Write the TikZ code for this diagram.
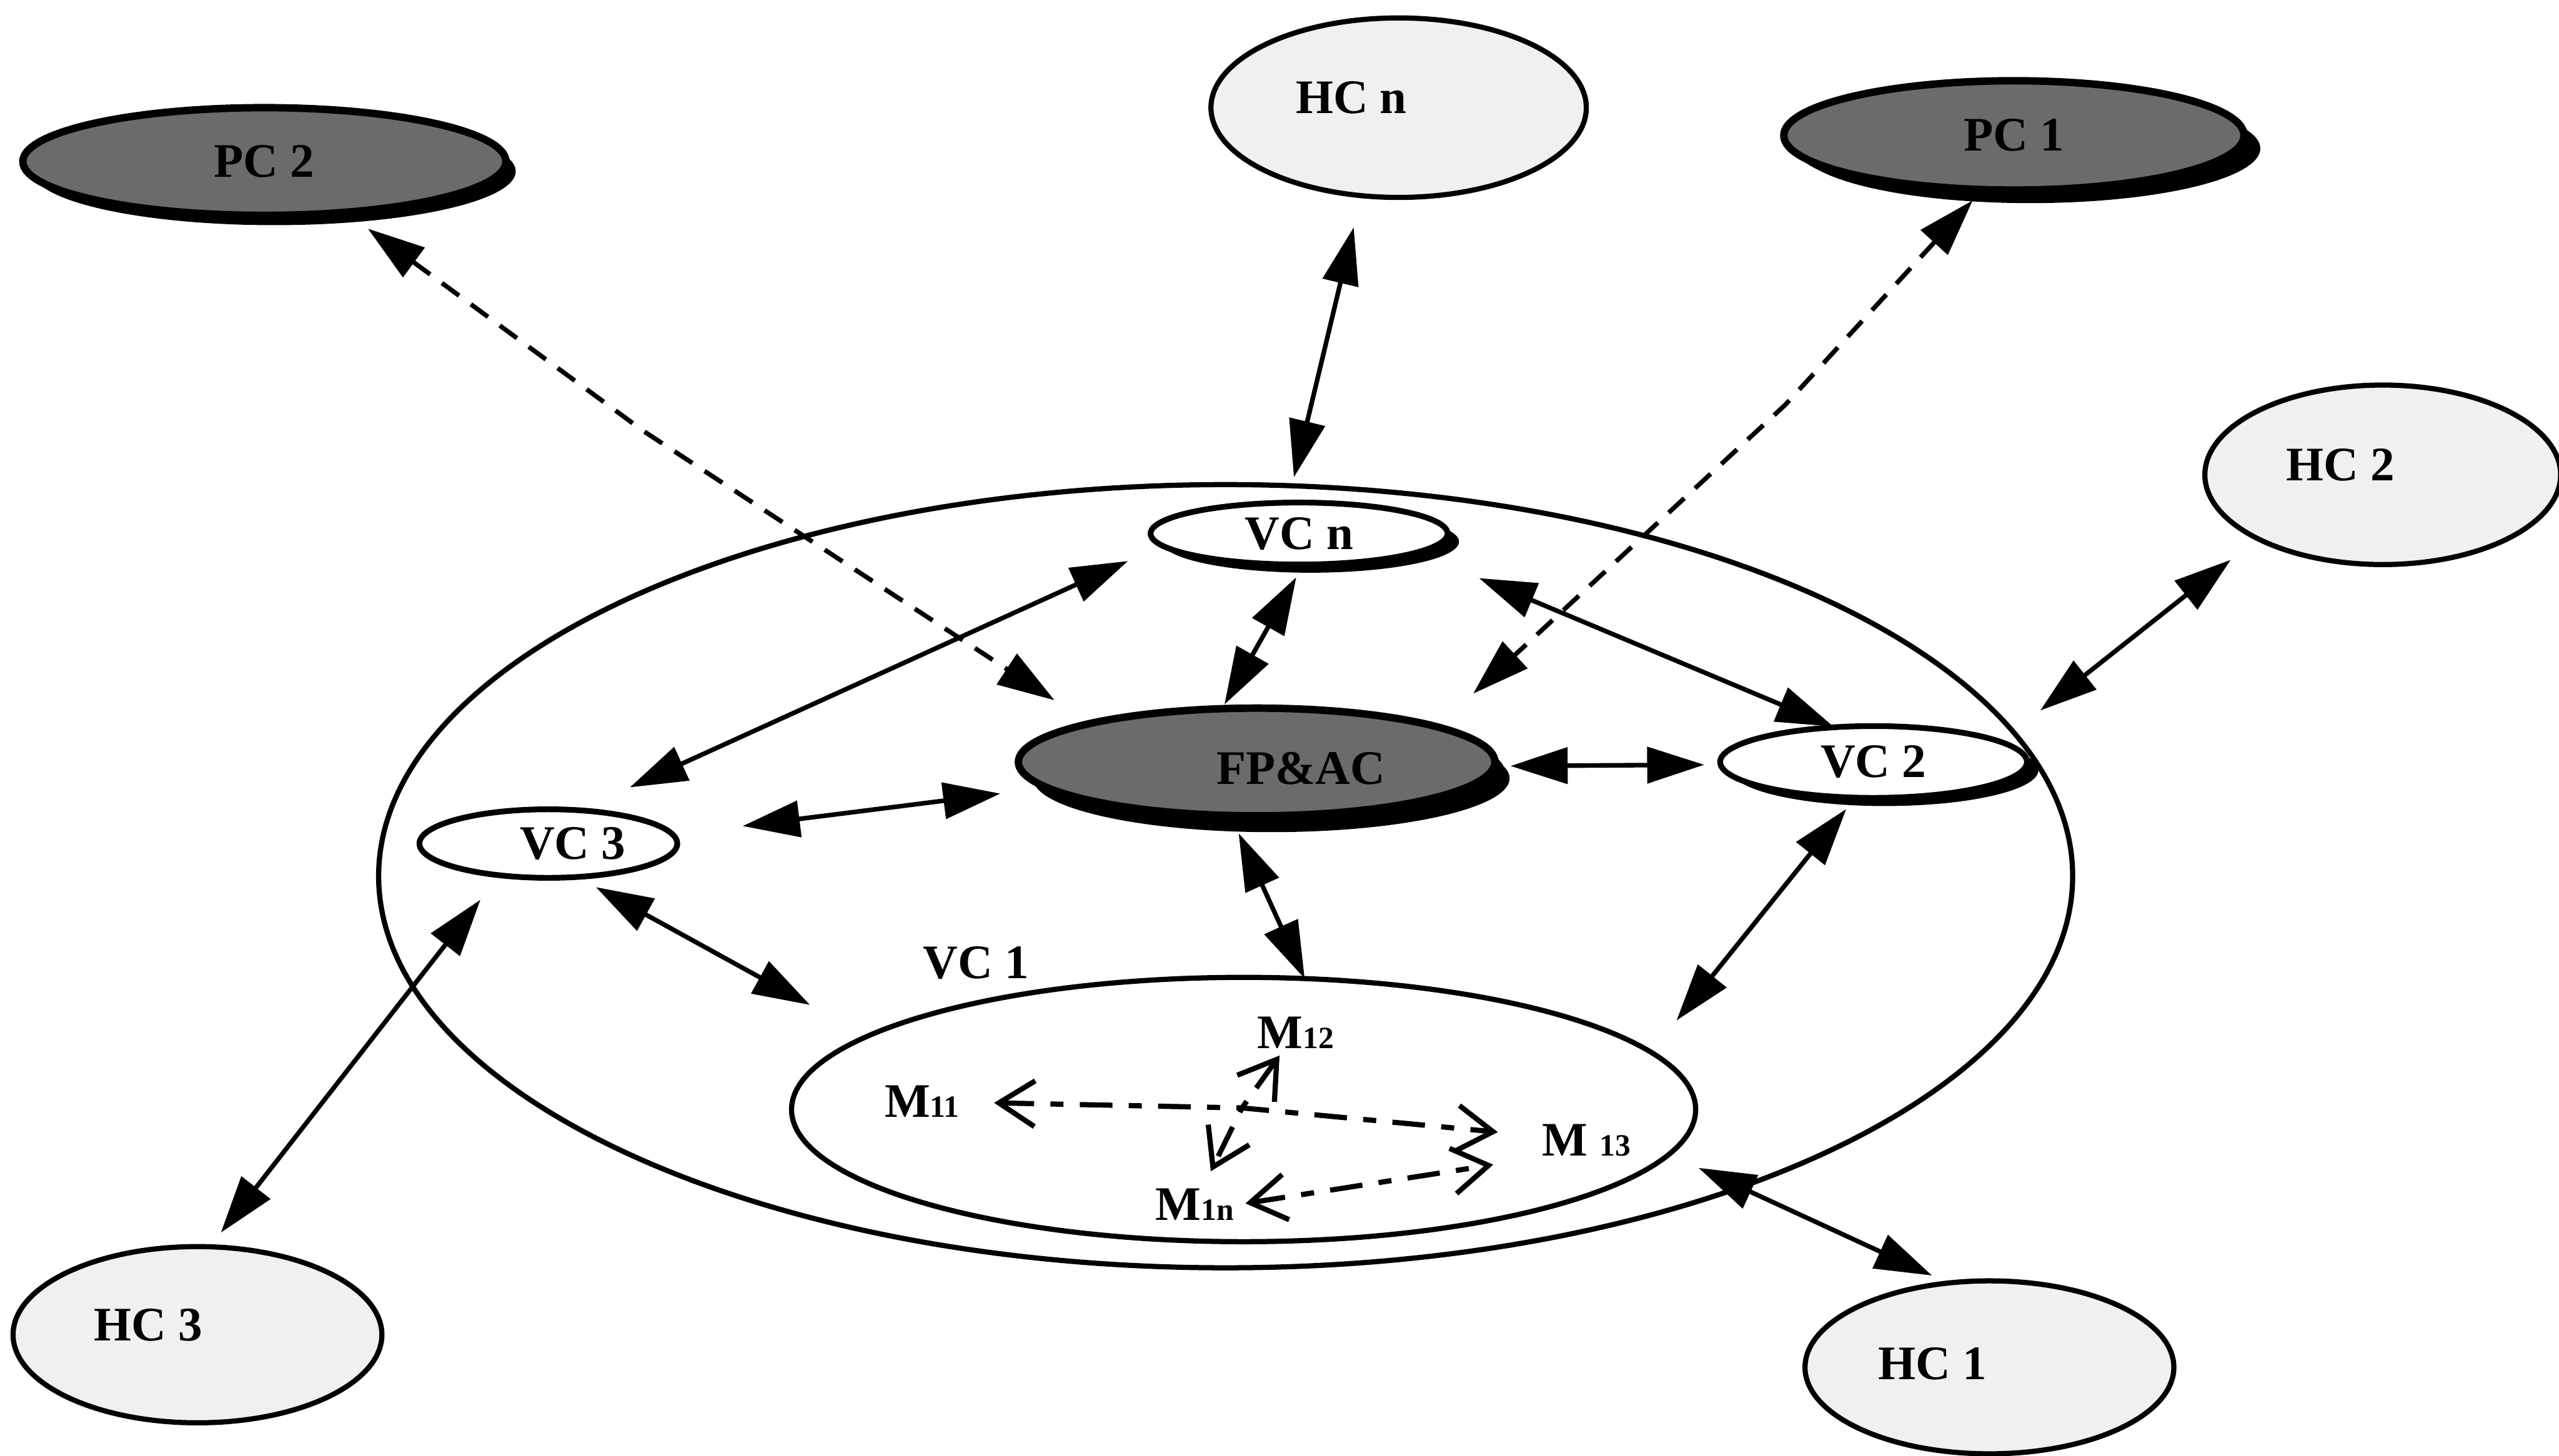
\documentclass[tikz,border=0pt]{standalone}
\usepackage{fontspec}
\setmainfont{Liberation Serif}
\usetikzlibrary{arrows.meta,shapes.geometric,shadows}
\newcommand\msub[1]{{\fontsize{5.4}{6}\selectfont#1}}
\tikzset{
  fnt/.style={font=\fontsize{8.4}{10}\selectfont\bfseries},
  txt/.style={fnt,inner sep=1pt},
  ring/.style={ellipse,draw,line width=0.9pt,inner sep=0pt,outer sep=0pt},
  hc/.style={ring,fill=black!6,fnt},
  vc/.style={ring,line width=1pt,fill=white,fnt},
  pc/.style={ring,line width=1.3pt,fill=black!58,fnt,
    drop shadow={shadow xshift=0.6mm,shadow yshift=-0.6mm,fill=black,opacity=1}},
  vcs/.style={vc,drop shadow={shadow xshift=0.7mm,shadow yshift=-0.5mm,fill=black,opacity=1}},
  link/.style={line width=0.8pt,{Triangle[length=3.5mm,width=2.2mm]}-{Triangle[length=3.5mm,width=2.2mm]}},
  plink/.style={link,dash pattern=on 1.3mm off 0.9mm},
  mlink/.style={line width=0.9pt,dash pattern=on 2mm off 1mm on 0.8mm off 1mm,
    {Straight Barb[length=2.2mm,width=2.8mm]}-{Straight Barb[length=2.2mm,width=2.8mm]}}
}
\begin{document}
\begin{tikzpicture}[x=0.1mm,y=-0.1mm]
\useasboundingbox(0,0)rectangle(1568,892);
%clusters
\node[ring,minimum width=103.8mm,minimum height=48mm](vo)at(751,537){};
\node[ring,minimum width=55.4mm,minimum height=16.2mm](vc1)at(762,680){};
\node[txt](vc1t)at(598,590){VC 1};
%outer clubs
\node[pc,minimum width=29.6mm,minimum height=6.6mm](pc2)at(162,99){PC 2};
\node[pc,minimum width=28.2mm,minimum height=6.7mm,
  drop shadow={shadow xshift=1mm,shadow yshift=-0.8mm,fill=black,opacity=1}](pc1)at(1234,83){PC 1};
\node[hc,minimum width=23mm,minimum height=11mm,label={[txt,xshift=-2.9mm,yshift=0.6mm]center:HC n}](hcn)at(857,66){};
\node[hc,minimum width=21.8mm,minimum height=11mm,label={[txt,xshift=-2.6mm,yshift=0.6mm]center:HC 2}](hc2)at(1460,291){};
\node[hc,minimum width=22.6mm,minimum height=10.8mm,label={[txt,xshift=-3mm,yshift=0.6mm]center:HC 3}](hc3)at(121,818){};
\node[hc,minimum width=22.6mm,minimum height=10.6mm,label={[txt,xshift=-3.5mm,yshift=0.2mm]center:HC 1}](hc1)at(1219,838){};
%inner clubs
\node[vcs,minimum width=18.2mm,minimum height=3.8mm](vcn)at(796,327){VC n};
\node[pc,minimum width=29.2mm,minimum height=6.6mm,
  drop shadow={shadow xshift=0.9mm,shadow yshift=-1mm,fill=black,opacity=1},
  label={[txt,xshift=2.7mm,yshift=-0.4mm]center:FP\&AC}](fpac)at(770,467){};
\node[vcs,minimum width=18.8mm,minimum height=4.4mm](vc2)at(1148,467){VC 2};
\node[vc,minimum width=15.8mm,minimum height=4.2mm,label={[txt,xshift=1.5mm]center:VC 3}](vc3)at(336,517){};
%members
\node[txt](m11)at(565,675){M\msub{11}};
\node[txt](m12)at(794,633){M\msub{12}};
\node[txt](m13)at(972,699){M \msub{13}};
\node[txt](m1n)at(732,738){M\msub{1n}};
\coordinate(mc)at(761,679);
\coordinate(k1)at(394,264);
\coordinate(k2)at(1094,248);
%links
\draw[link,shorten <=2mm,shorten >=1.6mm](hcn.-113)--(vcn.110);
\draw[plink,shorten <=1.7mm,shorten >=2.6mm](pc2.-32)--(k1)--(fpac.167);
\draw[plink,shorten <=0.9mm,shorten >=3mm](pc1.-120)--(k2)--(fpac.11);
\draw[link,shorten <=0.9mm,shorten >=0.3mm](vcn.-82)--(fpac.123);
\draw[link,shorten <=2.3mm,shorten >=3.4mm](vcn.-175)--(vc3.47);
\draw[link,shorten <=4.1mm,shorten >=0.1mm](vcn.-9)--(vc2.138);
\draw[link,shorten <=4.3mm,shorten >=2.9mm](vc3.4)--(fpac.-173);
\draw[link,shorten <=1mm,shorten >=1mm](fpac.-1)--(vc2.-179);
\draw[link,shorten <=1.2mm](fpac.-116)--(vc1.65);
\draw[link,shorten <=1.3mm,shorten >=4mm](vc3.-49)--(vc1.169);
\draw[link,shorten <=1.9mm,shorten >=1.1mm](vc3.-147)--(hc3.82);
\draw[link,shorten <=0.9mm,shorten >=2.5mm](vc2.-117)--(vc1.8);
\draw[link,shorten <=3.1mm,shorten >=2.1mm](vc2.9)--(hc2.-153);
\draw[link,shorten <=2mm,shorten >=1.1mm](vc1.-6)--(hc1.116);
%member links
\draw[mlink,shorten <=1.7mm,shorten >=2.3mm](m11)--(mc)--(m13);
\draw[mlink,shorten >=0.7mm](m12)--(mc)--(m1n);
\draw[mlink,shorten <=0.3mm,shorten >=2.6mm](m1n.east)--(m13.-161);
\end{tikzpicture}
\end{document}
